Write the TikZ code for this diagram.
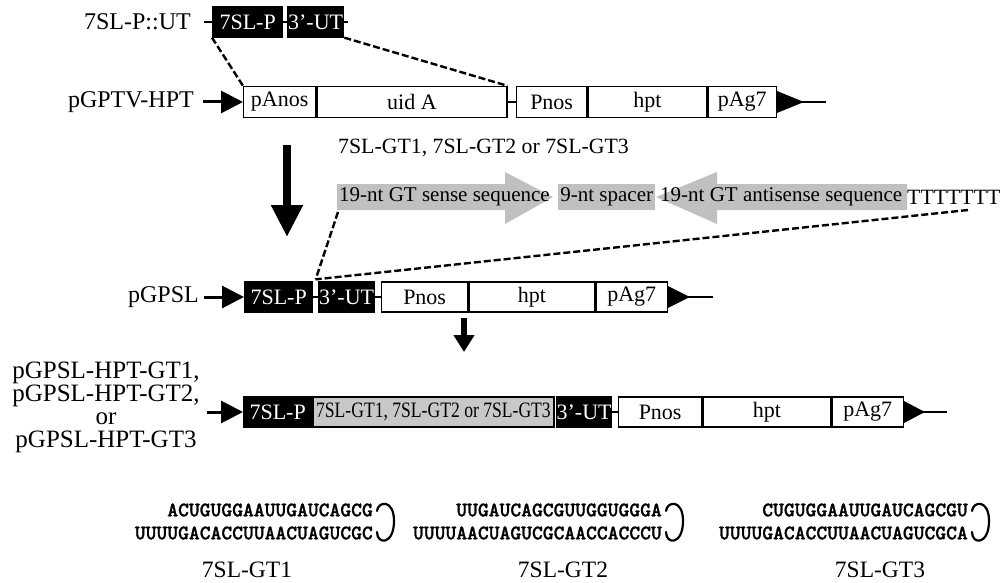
\documentclass[tikz,border=0pt]{standalone}
\usepackage{fontspec}
\setmainfont{Liberation Serif}
\newfontfamily\seqfont{lmmonolt10-bold.otf}[FakeBold=1.2]
\usepackage{graphicx}
\usetikzlibrary{arrows.meta,calc}
\definecolor{gfill}{RGB}{192,192,192}
\definecolor{gboxc}{RGB}{200,200,200}
\tikzset{
 lab/.style={inner sep=0pt, font=\fontsize{24}{26}\selectfont},
 wbox/.style={draw, line width=1.3pt, fill=white, minimum height=31pt, inner sep=0pt, anchor=west, font=\fontsize{22}{24}\selectfont},
 bbox/.style={wbox, fill=black, text=white},
 gbx/.style={wbox, fill=gboxc},
 conn/.style={line width=1.6pt},
 arrin/.style={line width=3pt, -{Triangle[length=22pt,width=22pt]}},
 dsh/.style={line width=2.4pt, dash pattern=on 7pt off 3pt},
 seq/.style={inner sep=0pt, anchor=east, font=\seqfont\fontsize{20.6}{22}\selectfont},
 hairpin/.style={line width=2.2pt, line cap=round},
 gtxt/.style={inner sep=0pt, anchor=west, font=\fontsize{21}{23}\selectfont},
 captext/.style={inner sep=0pt, font=\fontsize{23.5}{25}\selectfont},
}
\begin{document}
\begin{tikzpicture}[x=1pt,y=-1pt]
\useasboundingbox (0,0) rectangle (1001,583);

% ---------- row 1: 7SL-P::UT
\node[lab, anchor=east] (l1) at (191,22) {7SL-P::UT};
\coordinate (d1) at (204,22);
\node[bbox, minimum width=70pt, minimum height=30pt] (p1) at (212,22) {7SL-P};
\node[bbox, minimum width=56pt, minimum height=30pt] (u1) at (287,22) {3’-UT};
\coordinate (e1) at (348,22);
\draw[conn] (d1) -- (p1.west);
\draw[conn] (p1.east) -- (u1.west);
\draw[conn] (u1.east) -- (e1);

% ---------- row 2: pGPTV-HPT
\node[lab, anchor=east] (l2) at (194,102) {pGPTV-HPT};
\coordinate (a2) at (203,102);
\node[wbox, minimum width=72pt] (pan) at (243,102) {pAnos};
\node[wbox, minimum width=190pt] (uid) at (pan.east) {uid A};
\node[wbox, minimum width=70pt] (pn2) at (516,102) {Pnos};
\node[wbox, minimum width=119pt] (hp2) at (pn2.east) {hpt};
\node[wbox, minimum width=68pt] (pa2) at (hp2.east) {pAg7};
\draw[arrin] (a2) -- (pan.west);
\draw[conn] (uid.east) -- (pn2.west);
\coordinate (t2) at ($(pa2.east)+(49,0)$);
\draw[conn] (pa2.east) -- (t2);
\fill ([yshift=11pt]pa2.east) -- ([xshift=27pt]pa2.east) -- ([yshift=-11pt]pa2.east) -- cycle;

\draw[dsh] (p1.south west) -- (pan.north west);
\draw[dsh] (u1.south east) -- (uid.north east);

% ---------- big arrow
\coordinate (ba0) at (287,145);
\coordinate (ba1) at (287,237);
\draw[line width=8pt, -{Triangle[length=32pt,width=30pt]}] (ba0) -- (ba1);

% ---------- hairpin construct
\node[gtxt, font=\fontsize{21.8}{24}\selectfont] (gtl) at (338,148) {7SL-GT1, 7SL-GT2 or 7SL-GT3};
\fill[gfill] (337,184) -- (505,184) -- (505,172) -- (553,197) -- (505,224) -- (505,210) -- (337,210) -- cycle;
\node[gtxt] (sense) at (339,197) {19-nt GT sense sequence};
\node[fill=gfill, minimum width=97pt, minimum height=26pt, inner sep=0pt, anchor=west, font=\fontsize{21}{23}\selectfont] (spacer) at (558,197) {9-nt spacer};
\fill[gfill] (656,197) -- (717,172) -- (717,184) -- (907,184) -- (907,210) -- (717,210) -- (717,224) -- cycle;
\node[gtxt] (anti) at (660,197) {19-nt GT antisense sequence};
\node[gtxt, font=\fontsize{21.8}{24}\selectfont] (tt) at (907,197) {TTTTTTT};
\coordinate (sl) at (338,212);
\coordinate (sr) at (968,210);

% ---------- row 3: pGPSL
\node[lab, anchor=east] (l3) at (199,297) {pGPSL};
\coordinate (a3) at (204,297);
\node[bbox, minimum width=68pt, minimum height=30pt] (p3) at (244,297) {7SL-P};
\node[bbox, minimum width=56pt, minimum height=30pt] (u3) at (318,297) {3’-UT};
\node[wbox, minimum width=86pt, minimum height=30pt] (pn3) at (381,297) {Pnos};
\node[wbox, minimum width=126pt, minimum height=30pt] (hp3) at (pn3.east) {hpt};
\node[wbox, minimum width=71pt, minimum height=30pt] (pa3) at (hp3.east) {pAg7};
\draw[arrin] (a3) -- (p3.west);
\draw[conn] (p3.east) -- (u3.west);
\draw[conn] (u3.east) -- (pn3.west);
\coordinate (t3) at ($(pa3.east)+(45,0)$);
\draw[conn] (pa3.east) -- (t3);
\fill ([yshift=11pt]pa3.east) -- ([xshift=22pt]pa3.east) -- ([yshift=-11pt]pa3.east) -- cycle;
\coordinate (j3) at ($(p3.north east)!0.5!(u3.north west)+(0,-2)$);
\draw[dsh] (sl) -- (j3);
\draw[dsh] (sr) -- (j3);

% ---------- small arrow
\coordinate (sa0) at (464,318);
\coordinate (sa1) at (464,352);
\draw[line width=6pt, -{Triangle[length=17pt,width=20pt]}] (sa0) -- (sa1);

% ---------- row 4
\node[lab, align=center, font=\fontsize{25}{23}\selectfont] (l4) at (106,407) {pGPSL-HPT-GT1,\\pGPSL-HPT-GT2,\\or\\pGPSL-HPT-GT3};
\coordinate (a4) at (207,412);
\node[bbox, minimum width=68pt, minimum height=30pt] (p4) at (243,412) {7SL-P};
\node[gbx, minimum width=241pt, minimum height=30pt] (g4) at (p4.east) {\scalebox{0.8}[1]{7SL-GT1, 7SL-GT2 or 7SL-GT3}};
\node[bbox, minimum width=54pt, minimum height=30pt] (u4) at (556,412) {3’-UT};
\node[wbox, minimum width=83pt, minimum height=30pt] (pn4) at (618,412) {Pnos};
\node[wbox, minimum width=128pt, minimum height=30pt] (hp4) at (pn4.east) {hpt};
\node[wbox, minimum width=71pt, minimum height=30pt] (pa4) at (hp4.east) {pAg7};
\draw[arrin] (a4) -- (p4.west);
\draw[conn] (u4.east) -- (pn4.west);
\coordinate (t4) at ($(pa4.east)+(43,0)$);
\draw[conn] (pa4.east) -- (t4);
\fill ([yshift=11pt]pa4.east) -- ([xshift=21pt]pa4.east) -- ([yshift=-11pt]pa4.east) -- cycle;

% ---------- sequences
\node[seq] (s1a) at (373,510) {ACUGUGGAAUUGAUCAGCG};
\node[seq] (s1b) at (373,533) {UUUUGACACCUUAACUAGUCGC};
\node[seq] (s2a) at (662,510) {UUGAUCAGCGUUGGUGGGA};
\node[seq] (s2b) at (662,533) {UUUUAACUAGUCGCAACCACCCU};
\node[seq] (s3a) at (968,510) {CUGUGGAAUUGAUCAGCGU};
\node[seq] (s3b) at (968,533) {UUUUGACACCUUAACUAGUCGCA};
\foreach \a/\b in {s1a/s1b,s2a/s2b,s3a/s3b}{
 \draw[hairpin] ([shift={(4pt,-1pt)}]\a.east) .. controls ([shift={(5pt,9pt)}]\a.east) and ([shift={(21pt,11pt)}]\a.east) .. ([shift={(21pt,-11pt)}]\a.east)
   .. controls ([shift={(21pt,-35pt)}]\a.east) and ([shift={(4pt,-35pt)}]\a.east) .. ([shift={(4pt,1pt)}]\b.east);
}
\node[captext] (c1) at (247,570) {7SL-GT1};
\node[captext] (c2) at (563,570) {7SL-GT2};
\node[captext] (c3) at (880,570) {7SL-GT3};
\end{tikzpicture}
\end{document}
